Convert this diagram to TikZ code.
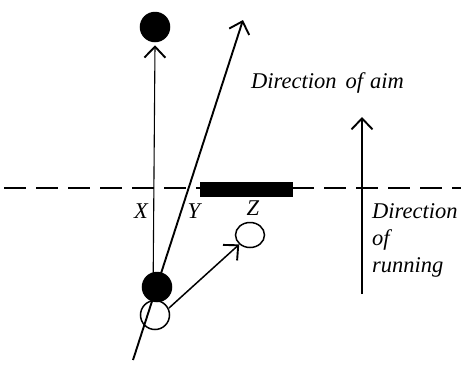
\documentclass[tikz,border=0pt]{standalone}
\usepackage{fontspec}
\setmainfont{Liberation Serif}
\usetikzlibrary{arrows.meta,shapes.geometric}
\begin{document}
\begin{tikzpicture}[x=1pt,y=-1pt,
  line/.style={line width=1.5pt},
  tip/.style={-{Straight Barb[length=11pt,width=21pt,line width=1.9pt]}},
  ball/.style={circle,draw,line width=1.5pt,minimum size=29pt,inner sep=0pt},
  lbl/.style={font=\itshape\fontsize{22.5}{27}\selectfont,inner sep=0pt}]
\useasboundingbox (0,0) rectangle (461,365);
% dashed line
\draw[line width=1.6pt,dash pattern=on 22pt off 10pt,dash phase=-4pt] (0,188) coordinate (dl) -- (461,188) coordinate (dr);
% black bar
\node[fill=black,minimum width=93pt,minimum height=15pt,inner sep=0pt,anchor=north west] (bar) at (200,182) {};
% balls
\node[ball,fill=black] (top) at (155,27) {};
\node[ball] (ob) at (155,315) {};
\node[ellipse,draw,line width=1.5pt,minimum width=29pt,minimum height=25pt,inner sep=0pt] (zb) at (250,235) {};
% lines
\coordinate (xs) at (153,300);
\draw[line width=1.1pt,tip] (xs) -- ([yshift=-3pt]top.south);
\coordinate (ls) at (133,360);
\coordinate (le) at (243,20);
\draw[line width=1.9pt,tip] (ls) -- (le);
\coordinate (os) at (169,308);
\draw[line,tip] (os) -- (zb.south west);
\node[ball,fill=black] (fb) at (157,287) {};
% right arrow
\coordinate (rs) at (362,294);
\coordinate (re) at (362,117);
\draw[line width=1.3pt,tip] (rs) -- (re);
% labels
\node[lbl,anchor=base] (lx) at (141,218) {X};
\node[lbl,anchor=base] (ly) at (194,218) {Y};
\node[lbl,anchor=base] (lz) at (253,215) {Z};
\node[lbl,anchor=base west] (aim) at (251,88) {Direction\hspace{9pt}of\hspace{7pt}aim};
\node[lbl,anchor=base west] (run1) at (372,218) {Direction};
\node[lbl,anchor=base west] (run2) at (372,245) {of};
\node[lbl,anchor=base west] (run3) at (372,272) {running};
\end{tikzpicture}
\end{document}
